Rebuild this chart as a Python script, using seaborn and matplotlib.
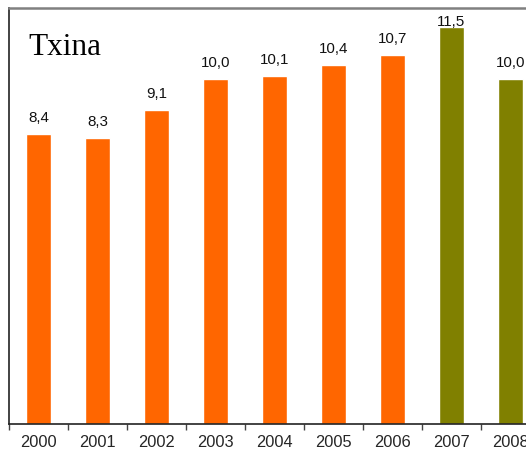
import seaborn as sns, matplotlib.pyplot as plt
import numpy as np

years = ['2000', '2001', '2002', '2003', '2004', '2005', '2006', '2007', '2008']
values = [8.4, 8.3, 9.1, 10.0, 10.1, 10.4, 10.7, 11.5, 10.0]
labels = ['8,4', '8,3', '9,1', '10,0', '10,1', '10,4', '10,7', '11,5', '10,0']
orange, olive = '#FF6600', '#808000'
colors = [orange] * 7 + [olive] * 2

sns.set_style('white')
plt.rcParams['font.family'] = ['Liberation Sans', 'DejaVu Sans']

W, H = 526, 461
fig = plt.figure(figsize=(W / 100, H / 100), dpi=100)
# axes runs off the right edge, as in the original crop
ax = fig.add_axes([9 / W, 37 / H, 531 / W, 416 / H])

sns.barplot(x=years, y=values, hue=years, palette=colors, legend=False,
            width=0.41, saturation=1, ax=ax)
ax.set_xlim(-0.5, 8.5)
ax.set_ylim(0, 12.06)

for i, (v, lab) in enumerate(zip(values, labels)):
    y = min(v + 0.464, 11.65)
    ax.text(i, y, lab, ha='center', va='center', fontsize=10.9, color='#111111')

# tick marks between categories, labels centred under bars
ax.set_xticks(np.arange(-0.5, 9.0, 1.0))
ax.set_xticklabels([])
ax.tick_params(axis='x', which='major', direction='out', length=4.5, width=1,
               color='#444444', bottom=True)
ax.set_xticks(range(len(years)), minor=True)
ax.set_xticklabels(years, minor=True, fontsize=11.8)
ax.tick_params(axis='x', which='minor', length=0, pad=8)
ax.set_yticks([])
ax.set_xlabel('')
ax.set_ylabel('')

for s in ['left', 'bottom']:
    ax.spines[s].set_color('#222222')
    ax.spines[s].set_linewidth(1.2)
ax.spines['top'].set_color('#808080')
ax.spines['top'].set_linewidth(1.8)
ax.spines['right'].set_visible(False)

fig.text(28 / W, 1 - 55 / H, 'Txina', fontsize=22.5, family='Liberation Serif',
         va='baseline', ha='left', color='black')

fig.savefig('out.png', dpi=100)
